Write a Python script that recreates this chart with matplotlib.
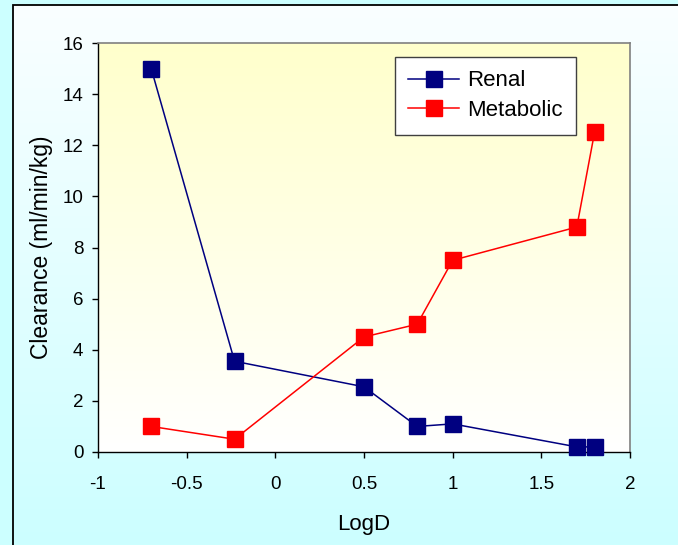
import numpy as np
import matplotlib
matplotlib.use("Agg")
import matplotlib.pyplot as plt
from matplotlib.patches import Rectangle
from matplotlib.colors import LinearSegmentedColormap

plt.rcParams['font.family'] = ['Liberation Sans', 'DejaVu Sans']

# Data
logd = [-0.7, -0.23, 0.5, 0.8, 1.0, 1.7, 1.8]
renal = [15.0, 3.55, 2.55, 1.0, 1.1, 0.2, 0.2]
metabolic = [1.0, 0.5, 4.5, 5.0, 7.5, 8.8, 12.5]
x_ticks = [-1, -0.5, 0, 0.5, 1, 1.5, 2]
x_tick_labels = ["-1", "-0.5", "0", "0.5", "1", "1.5", "2"]
y_ticks = [0, 2, 4, 6, 8, 10, 12, 14, 16]

fig = plt.figure(figsize=(6.78, 5.45), dpi=100)
fig.patch.set_facecolor('#ccffff')

# Figure background gradient inside the outer frame
bg = fig.add_axes([0, 0, 1, 1], zorder=-10)
bg.set_axis_off()
bg.set_xlim(0, 1)
bg.set_ylim(0, 1)
bg_cmap = LinearSegmentedColormap.from_list('bg', ['#ccffff', '#fafeff'])
grad = np.linspace(0, 1, 256).reshape(-1, 1)
x0 = 13 / 678
y1 = 1 - 5 / 545
bg.imshow(grad, cmap=bg_cmap, origin='lower', aspect='auto',
          extent=[x0, 1.01, 0, y1], zorder=0)
bg.add_patch(Rectangle((x0, -0.05), 1.2, y1 + 0.05, fill=False,
                       edgecolor='black', linewidth=1.3, zorder=2))

ax = fig.add_axes([98 / 678, 1 - 452 / 545, (630 - 98) / 678, (452 - 43) / 545])
ax.set_xlim(-1, 2)
ax.set_ylim(0, 16)

# Plot area gradient: pale yellow at top fading to white
pa_cmap = LinearSegmentedColormap.from_list('pa', ['#ffffff', '#ffffcc'])
ax.imshow(grad, cmap=pa_cmap, origin='lower', aspect='auto',
          extent=[-1, 2, 0, 16], zorder=0)

ax.plot(logd, renal, color='#000080', linewidth=1.1, marker='s',
        markersize=11.5, markerfacecolor='#000080', markeredgecolor='#000080',
        label='Renal', zorder=3, clip_on=False)
ax.plot(logd, metabolic, color='#ff0000', linewidth=1.1, marker='s',
        markersize=11.5, markerfacecolor='#ff0000', markeredgecolor='#ff0000',
        label='Metabolic', zorder=3, clip_on=False)

ax.set_xticks(x_ticks)
ax.set_xticklabels(x_tick_labels)
ax.set_yticks(y_ticks)
ax.tick_params(direction='out', length=4.5, width=1, labelsize=13.5,
               colors='black')
ax.tick_params(axis='y', pad=6)
ax.tick_params(axis='x', pad=13)

for side in ('top', 'right'):
    ax.spines[side].set_color('#808080')
    ax.spines[side].set_linewidth(1.2)
for side in ('left', 'bottom'):
    ax.spines[side].set_color('black')
    ax.spines[side].set_linewidth(1.0)

ax.set_xlabel('LogD', fontsize=16, labelpad=15)
ax.set_ylabel('Clearance (ml/min/kg)', fontsize=16.5, labelpad=7)

leg = ax.legend(loc='upper left', bbox_to_anchor=(297 / 532, 1 - 14 / 409),
                fontsize=16, frameon=True, fancybox=False, shadow=False,
                handlelength=2.3, handletextpad=0.35, borderpad=0.6,
                labelspacing=0.4, borderaxespad=0)
leg.get_frame().set_edgecolor('#404040')
leg.get_frame().set_linewidth(1.0)
leg.get_frame().set_facecolor('white')
leg.get_frame().set_alpha(1)

fig.savefig('out.png', dpi=100, facecolor=fig.get_facecolor())
